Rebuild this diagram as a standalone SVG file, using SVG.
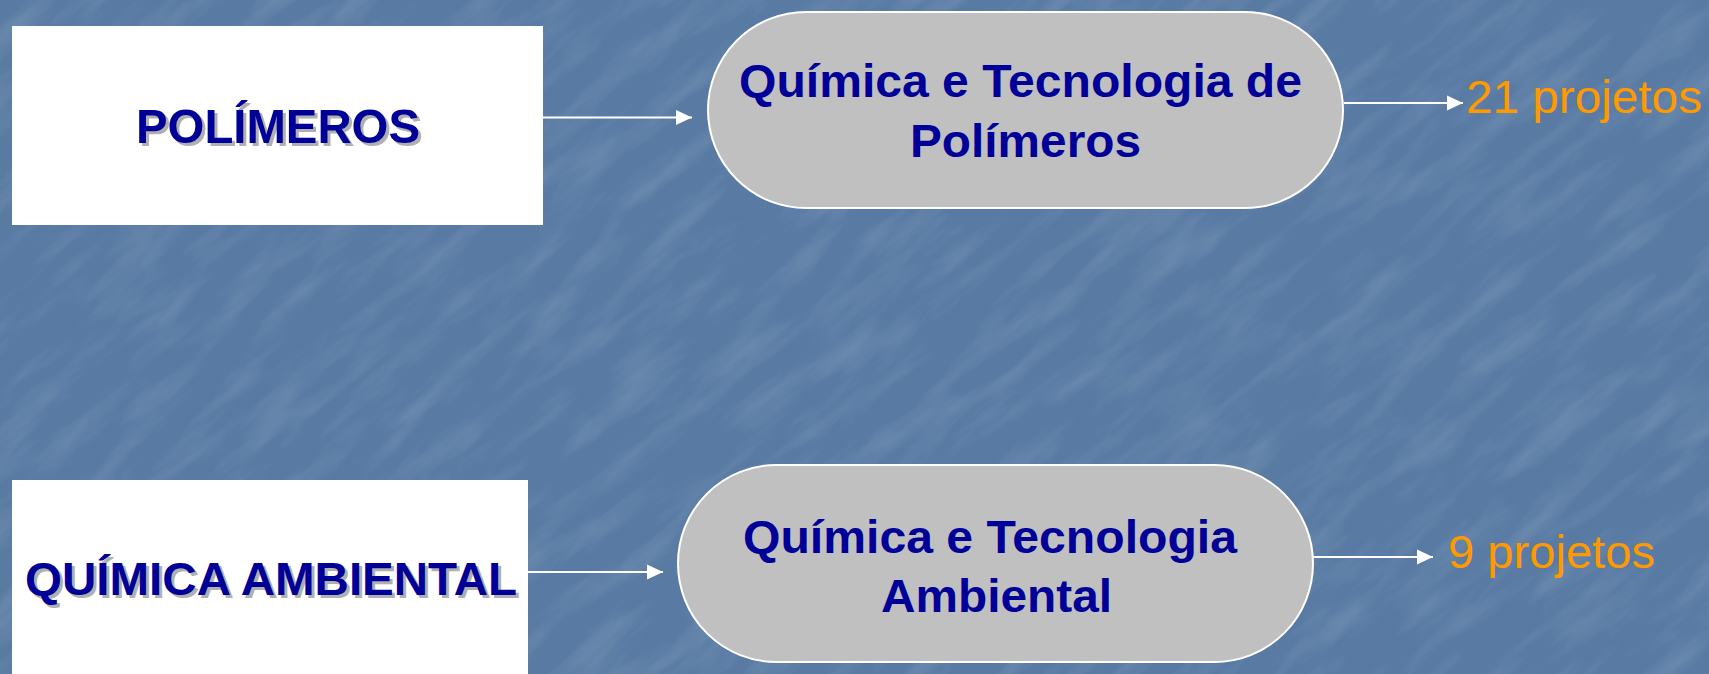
<svg xmlns="http://www.w3.org/2000/svg" width="1709" height="674" viewBox="0 0 1709 674">
  <style>
    .box { fill: #ffffff; }
    .pill { fill: #c0c0c0; stroke: #ffffff; stroke-width: 2; }
    .title { font-family: "Liberation Sans", Arial, sans-serif; font-weight: bold; fill: #000099; }
    .shadow { font-family: "Liberation Sans", Arial, sans-serif; font-weight: bold; fill: #b0b0b0; }
    .count { font-family: "Liberation Sans", Arial, sans-serif; fill: #ff9900; }
    .conn { stroke: #ffffff; stroke-width: 2; fill: none; marker-end: url(#arrow); }
  </style>
  <defs>
    <marker id="arrow" markerUnits="userSpaceOnUse" markerWidth="16" markerHeight="16" viewBox="0 0 16 16" refX="16" refY="8" orient="auto">
      <path d="M0,0.5 L16,8 L0,15.5 Z" fill="#ffffff"/>
    </marker>
    <filter id="tex" filterUnits="userSpaceOnUse" x="-600" y="-1200" width="3000" height="3000">
      <feTurbulence type="fractalNoise" baseFrequency="0.01 0.04" numOctaves="5" seed="11" result="n"/>
      <feColorMatrix type="matrix" in="n" values="0 0 0 0 1  0 0 0 0 1  0 0 0 0 1  1 0 0 0 -0.42"/>
    </filter>
    <clipPath id="clip"><rect width="1709" height="674"/></clipPath>
  </defs>
  <rect width="1709" height="674" fill="#587aa3"/>
  <g clip-path="url(#clip)" opacity="0.25">
    <g transform="rotate(-40 854 337)">
      <rect x="-600" y="-1200" width="3000" height="3000" filter="url(#tex)"/>
    </g>
  </g>

  <g id="node-polimeros">
    <rect class="box" x="12" y="26" width="531" height="199"/>
    <text class="shadow" x="139" y="145.5" font-size="49" textLength="284" lengthAdjust="spacingAndGlyphs">POLÍMEROS</text>
    <text class="title" x="136" y="142.5" font-size="49" textLength="284" lengthAdjust="spacingAndGlyphs">POLÍMEROS</text>
  </g>

  <g id="node-quimica-polimeros">
    <rect class="pill" x="708" y="12" width="635" height="196" rx="98" ry="98"/>
    <text class="title" x="739" y="97" font-size="46" textLength="563" lengthAdjust="spacingAndGlyphs">Química e Tecnologia de</text>
    <text class="title" x="910" y="157" font-size="46" textLength="231" lengthAdjust="spacingAndGlyphs">Polímeros</text>
  </g>

  <g id="node-21">
    <text class="count" x="1466" y="113" font-size="46" textLength="236" lengthAdjust="spacingAndGlyphs">21 projetos</text>
  </g>

  <g id="node-ambiental">
    <rect class="box" x="12" y="480" width="516" height="200"/>
    <text class="shadow" x="28" y="597.5" font-size="46" textLength="492" lengthAdjust="spacingAndGlyphs">QUÍMICA AMBIENTAL</text>
    <text class="title" x="25" y="595" font-size="46" textLength="492" lengthAdjust="spacingAndGlyphs">QUÍMICA AMBIENTAL</text>
  </g>

  <g id="node-quimica-ambiental">
    <rect class="pill" x="678" y="465" width="635" height="197" rx="98.5" ry="98.5"/>
    <text class="title" x="743" y="553" font-size="47" textLength="494" lengthAdjust="spacingAndGlyphs">Química e Tecnologia</text>
    <text class="title" x="881" y="612" font-size="47" textLength="231" lengthAdjust="spacingAndGlyphs">Ambiental</text>
  </g>

  <g id="node-9">
    <text class="count" x="1448" y="568" font-size="46" textLength="207" lengthAdjust="spacingAndGlyphs">9 projetos</text>
  </g>

  <g id="connectors">
    <line class="conn" x1="543" y1="117.5" x2="692" y2="117.5"/>
    <line class="conn" x1="1344" y1="103" x2="1463" y2="103"/>
    <line class="conn" x1="528" y1="572" x2="663" y2="572"/>
    <line class="conn" x1="1313" y1="557" x2="1433" y2="557"/>
  </g>
</svg>
